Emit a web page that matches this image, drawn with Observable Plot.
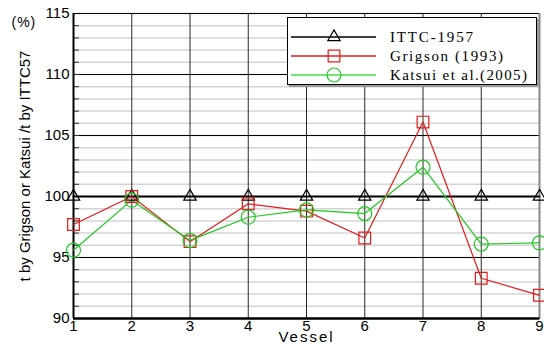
<!DOCTYPE html>
<html>
<head>
<meta charset="utf-8">
<script src="https://cdn.jsdelivr.net/npm/d3@7"></script>
<script src="https://cdn.jsdelivr.net/npm/@observablehq/plot@0.6"></script>
<style>
  body { margin: 0; background: #fff; }
  #wrap { position: relative; width: 544px; height: 347px; }
  #legend { position: absolute; left: 287px; top: 17px; width: 248px; height: 66px;
            border: 1px solid #000; background: #fff; box-shadow: 2px 2px 0 #999; }
</style>
</head>
<body>
<div id="wrap"><div id="chart"></div><div id="legend"></div></div>
<script>
const vessels = [1, 2, 3, 4, 5, 6, 7, 8, 9];
const ittc    = [100, 100, 100, 100, 100, 100, 100, 100, 100];
const grigson = [97.7, 100.0, 96.3, 99.4, 98.8, 96.6, 106.1, 93.3, 91.9];
const katsui  = [95.6, 99.7, 96.4, 98.3, 98.9, 98.6, 102.4, 96.1, 96.2];
const seriesNames = ["ITTC-1957", "Grigson (1993)", "Katsui et al.(2005)"];
const seriesColors = ["#000000", "#e31b1b", "#1ec81e"];
const seriesSymbols = ["triangle", "square", "circle"];
const yMajor = [90, 95, 100, 105, 110, 115];
const yMinor = d3.range(90, 116);
const yLabel = "t by Grigson or Katsui /t by ITTC57";
const xLabel = "Vessel";
const unitLabel = "(%)";

const rows = [];
[ittc, grigson, katsui].forEach((vals, i) => {
  vals.forEach((v, j) => rows.push({series: seriesNames[i], vessel: vessels[j], value: v}));
});
const bySeries = name => rows.filter(d => d.series === name);

const symR = [4.6, 6.6, 7];
const chart = Plot.plot({
  width: 544, height: 347,
  marginLeft: 73, marginRight: 5, marginTop: 13, marginBottom: 29,
  style: {fontFamily: "'Liberation Sans', Arial, sans-serif", fontSize: "15px", background: "#fff", color: "#000"},
  x: {domain: [1, 9], label: null},
  y: {domain: [90, 115], label: null},
  marks: [
    Plot.gridY(yMinor, {stroke: "#d4d4d4", strokeOpacity: 1, strokeWidth: 1.5}),
    Plot.gridX(vessels, {stroke: "#2a2a2a", strokeOpacity: 1, strokeWidth: 1}),
    Plot.gridY(yMajor.filter(v => v > 90 && v < 115), {stroke: "#000", strokeOpacity: 1, strokeWidth: 1}),
    Plot.axisY(yMinor, {tickSize: -6, tickFormat: () => "", stroke: "#333", label: null}),
    Plot.axisY(yMajor, {tickSize: 0, tickPadding: 4, label: null, fontSize: 15}),
    Plot.axisX(vessels, {tickSize: 0, tickPadding: 2, label: null, fontSize: 15}),
    Plot.frame({stroke: "#000", strokeWidth: 1}),
    Plot.ruleX([9], {stroke: "#888", strokeWidth: 2}),
    Plot.ruleX([1], {stroke: "#000", strokeWidth: 2}),
    Plot.ruleY([90], {stroke: "#000", strokeWidth: 2.5}),
    ...seriesNames.map((name, i) => Plot.line(bySeries(name), {
      x: "vessel", y: "value", stroke: seriesColors[i], strokeWidth: i === 0 ? 2 : 1.2
    })),
    ...seriesNames.map((name, i) => Plot.dot(bySeries(name), {
      x: "vessel", y: "value", symbol: () => seriesSymbols[i], r: symR[i],
      stroke: seriesColors[i], fill: "none", strokeWidth: 1.2
    })),
    Plot.text([yLabel], {frameAnchor: "left", dx: -48, rotate: -90, textAnchor: "middle", fontSize: 15, text: d => d}),
    Plot.text([xLabel], {frameAnchor: "bottom", dy: 23, fontSize: 15, text: d => d}),
    Plot.text([unitLabel], {frameAnchor: "top-left", dx: -62, dy: 4, fontSize: 14, text: d => d})
  ]
});
document.getElementById("chart").appendChild(chart);
d3.select(chart).selectAll("text").filter(function() { return this.textContent === xLabel; })
  .style("letter-spacing", "2px");
d3.select(chart).selectAll("text").filter(function() { return this.textContent === unitLabel; })
  .style("letter-spacing", "1px");

// legend
const legendWidths = [83, 113, 137];
const lg = d3.select("#legend").append("svg").attr("width", 248).attr("height", 66);
const symbolTypes = {triangle: d3.symbolTriangle, square: d3.symbolSquare, circle: d3.symbolCircle};
seriesNames.forEach((name, i) => {
  const y = 19 + i * 19;
  lg.append("line").attr("x1", 3).attr("x2", 88).attr("y1", y).attr("y2", y)
    .attr("stroke", i === 2 ? "#44dd44" : seriesColors[i]).attr("stroke-width", 1.3);
  lg.append("path").attr("transform", `translate(46,${y})`)
    .attr("d", d3.symbol(symbolTypes[seriesSymbols[i]], Math.PI * symR[i] * symR[i])())
    .attr("fill", "none").attr("stroke", seriesColors[i]).attr("stroke-width", 1.2);
  lg.append("text").attr("x", 102).attr("y", y + 5).text(name)
    .attr("font-family", "'Liberation Serif', 'Times New Roman', serif")
    .attr("font-size", 15).attr("textLength", legendWidths[i]).attr("lengthAdjust", "spacing")
    .attr("fill", "#000");
});
</script>
</body>
</html>
